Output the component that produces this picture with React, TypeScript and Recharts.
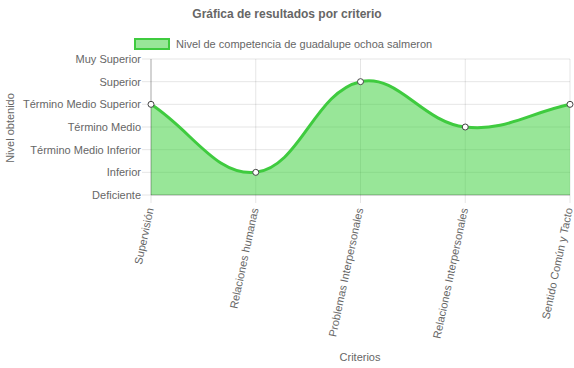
import React from "react";
import {
  Area,
  AreaChart,
  CartesianGrid,
  XAxis,
  YAxis,
} from "recharts";

const criterios = [
  "Supervisión",
  "Relaciones humanas",
  "Problemas Interpersonales",
  "Relaciones Interpersonales",
  "Sentido Común y Tacto",
];
const niveles = [4, 1, 5, 3, 4];
const nivelLabels = [
  "Deficiente",
  "Inferior",
  "Término Medio Inferior",
  "Término Medio",
  "Término Medio Superior",
  "Superior",
  "Muy Superior",
];

const data = criterios.map((name, i) => ({ name, nivel: niveles[i] }));

const FONT = "'Liberation Sans', Arial, Helvetica, sans-serif";
const GREEN = "#3fcb3f";
const TENSION = 0.4;

// spline like the original chart's (tension 0.4), written as a d3-style curve factory
function splineCurve(context: any) {
  let pts: number[][] = [];
  let line = NaN;
  return {
    areaStart() {
      line = 0;
    },
    areaEnd() {
      line = NaN;
    },
    lineStart() {
      pts = [];
    },
    point(x: number, y: number) {
      pts.push([+x, +y]);
    },
    lineEnd() {
      const n = pts.length;
      if (n) {
        const cps = pts.map((p, i) => {
          const prev = pts[i - 1] || p;
          const next = pts[i + 1] || p;
          const d01 = Math.hypot(p[0] - prev[0], p[1] - prev[1]);
          const d12 = Math.hypot(next[0] - p[0], next[1] - p[1]);
          const s01 = d01 / (d01 + d12) || 0;
          const s12 = d12 / (d01 + d12) || 0;
          const fa = TENSION * s01;
          const fb = TENSION * s12;
          return {
            a: [p[0] - fa * (next[0] - prev[0]), p[1] - fa * (next[1] - prev[1])],
            b: [p[0] + fb * (next[0] - prev[0]), p[1] + fb * (next[1] - prev[1])],
          };
        });
        if (line) context.lineTo(pts[0][0], pts[0][1]);
        else context.moveTo(pts[0][0], pts[0][1]);
        for (let i = 1; i < n; i++) {
          context.bezierCurveTo(
            cps[i - 1].b[0],
            cps[i - 1].b[1],
            cps[i].a[0],
            cps[i].a[1],
            pts[i][0],
            pts[i][1]
          );
        }
      }
      if (line || (line !== 0 && n === 1)) context.closePath();
      line = 1 - line;
    },
  };
}

function XTick(props: any) {
  const { x, y, payload } = props;
  return (
    <g transform={`translate(${x - 1},${y + 3})`}>
      <text
        transform="rotate(-78)"
        textAnchor="end"
        dy="0.35em"
        fontSize={11}
        fill="#666"
        fontFamily={FONT}
      >
        {payload.value}
      </text>
    </g>
  );
}

function YTick(props: any) {
  const { x, y, payload } = props;
  return (
    <text
      x={x}
      y={y}
      dy="0.35em"
      textAnchor="end"
      fontSize={11}
      fill="#666"
      fontFamily={FONT}
    >
      {nivelLabels[payload.value]}
    </text>
  );
}

export default function App() {
  return (
    <div
      style={{
        position: "absolute",
        left: 0,
        top: 0,
        width: 574,
        height: 368,
        fontFamily: FONT,
        color: "#666",
        background: "#fff",
      }}
    >
      <AreaChart
        width={574}
        height={368}
        data={data}
        margin={{ top: 59, right: 4, left: 0, bottom: 0 }}
      >
        <CartesianGrid stroke="rgba(0,0,0,0.1)" />
        <XAxis
          dataKey="name"
          interval={0}
          height={173}
          tickSize={8}
          tick={<XTick />}
          stroke="rgba(0,0,0,0.25)"
          tickLine={{ stroke: "rgba(0,0,0,0.1)" }}
        />
        <YAxis
          type="number"
          domain={[0, 6]}
          ticks={[0, 1, 2, 3, 4, 5, 6]}
          interval={0}
          width={151}
          tickSize={9}
          tickMargin={1}
          tick={<YTick />}
          stroke="rgba(0,0,0,0.25)"
          tickLine={{ stroke: "rgba(0,0,0,0.1)" }}
        />
        <Area
          type={splineCurve as any}
          dataKey="nivel"
          stroke={GREEN}
          strokeWidth={3}
          fill="rgb(50,205,50)"
          fillOpacity={0.5}
          dot={{ r: 3, fill: "#fff", stroke: "#444", strokeWidth: 1, fillOpacity: 1 }}
          isAnimationActive={false}
        />
      </AreaChart>
      <div
        style={{
          position: "absolute",
          left: 0,
          width: 574,
          top: 7,
          textAlign: "center",
          fontSize: 12,
          fontWeight: "bold",
        }}
      >
        Gráfica de resultados por criterio
      </div>
      <div
        style={{
          position: "absolute",
          left: 134,
          top: 37,
          display: "flex",
          alignItems: "center",
          fontSize: 11,
          lineHeight: "14px",
        }}
      >
        <span
          style={{
            display: "inline-block",
            width: 32,
            height: 8,
            border: `2px solid ${GREEN}`,
            background: "rgba(50,205,50,0.5)",
            marginRight: 6,
          }}
        />
        Nivel de competencia de guadalupe ochoa salmeron
      </div>
      <div
        style={{
          position: "absolute",
          left: 10,
          top: 128,
          fontSize: 11,
          whiteSpace: "nowrap",
          transform: "translate(-50%, -50%) rotate(-90deg)",
        }}
      >
        Nivel obtenido
      </div>
      <div
        style={{
          position: "absolute",
          left: 360,
          top: 357,
          fontSize: 11,
          transform: "translate(-50%, -50%)",
        }}
      >
        Criterios
      </div>
    </div>
  );
}
